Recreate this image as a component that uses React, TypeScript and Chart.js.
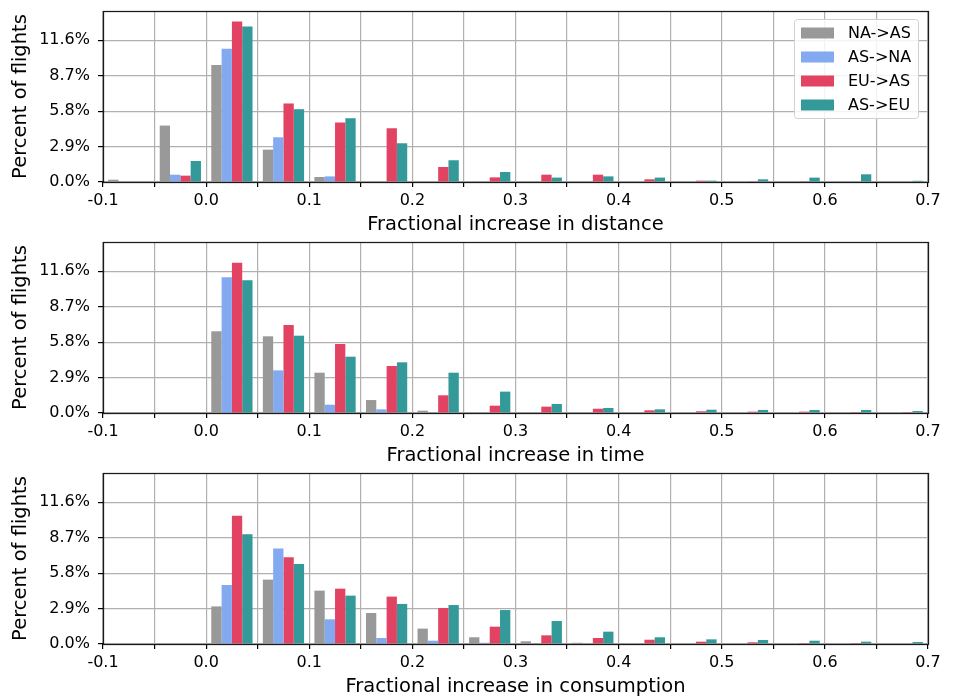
import React, { useEffect, useRef } from 'react';
import { Chart, registerables } from 'chart.js';

Chart.register(...registerables);

// Histogram bins (start of each 0.05-wide bin)
const binStarts = ['-0.10', '-0.05', '0.00', '0.05', '0.10', '0.15', '0.20', '0.25', '0.30', '0.35', '0.40', '0.45', '0.50', '0.55', '0.60', '0.65'];

const seriesLabels = ['NA->AS', 'AS->NA', 'EU->AS', 'AS->EU'];
const seriesColors = ['#999999', '#83a9f1', '#e34363', '#339999'];

// Panel 1: fractional increase in distance (% of flights)
const distNAAS = [0.19, 4.62, 9.57, 2.65, 0.41, 0, 0, 0, 0, 0, 0, 0, 0, 0, 0, 0];
const distASNA = [0, 0.6, 10.91, 3.66, 0.46, 0, 0, 0, 0, 0, 0, 0, 0, 0, 0, 0];
const distEUAS = [0, 0.52, 13.15, 6.43, 4.87, 4.4, 1.23, 0.38, 0.6, 0.6, 0.22, 0.11, 0.03, 0.03, 0.05, 0];
const distASEU = [0.05, 1.72, 12.74, 5.96, 5.22, 3.17, 1.78, 0.82, 0.36, 0.46, 0.36, 0.11, 0.22, 0.36, 0.63, 0.1];

// Panel 2: fractional increase in time
const timeNAAS = [0, 0, 6.69, 6.28, 3.3, 1.06, 0.19, 0, 0, 0, 0, 0, 0, 0, 0, 0];
const timeASNA = [0, 0, 11.11, 3.49, 0.68, 0.3, 0.08, 0, 0, 0, 0, 0, 0, 0, 0, 0];
const timeEUAS = [0, 0, 12.31, 7.21, 5.65, 3.85, 1.45, 0.6, 0.52, 0.35, 0.22, 0.14, 0.11, 0.11, 0.08, 0.08];
const timeASEU = [0, 0, 10.86, 6.33, 4.61, 4.15, 3.3, 1.75, 0.74, 0.41, 0.3, 0.27, 0.25, 0.25, 0.25, 0.16];

// Panel 3: fractional increase in consumption
const consNAAS = [0, 0, 3.08, 5.27, 4.37, 2.54, 1.26, 0.55, 0.22, 0.1, 0, 0, 0, 0, 0, 0];
const consASNA = [0, 0, 4.83, 7.81, 2.02, 0.49, 0.27, 0.1, 0, 0, 0, 0, 0, 0, 0, 0];
const consEUAS = [0, 0, 10.51, 7.1, 4.53, 3.88, 2.95, 1.42, 0.71, 0.49, 0.35, 0.19, 0.14, 0.08, 0.08, 0];
const consASEU = [0, 0, 8.98, 6.55, 3.96, 3.28, 3.19, 2.78, 1.88, 1.01, 0.55, 0.38, 0.33, 0.27, 0.19, 0.16];

const yTickValues = [0, 2.9, 5.8, 8.7, 11.6];
const yMax = 14.0;
const xMin = -0.1;
const xMax = 0.7;
const xStep = 0.05;

const FONT = "'DejaVu Sans', sans-serif";

const framePlugin = {
  id: 'frame',
  afterDatasetsDraw(chart: any) {
    const { left, top, right, bottom } = chart.chartArea;
    const ctx = chart.ctx;
    ctx.save();
    ctx.strokeStyle = '#1a1a1a';
    ctx.lineWidth = 1.25;
    ctx.strokeRect(Math.round(left) + 0.5, Math.round(top) + 0.5, Math.round(right - left), Math.round(bottom - top));
    ctx.restore();
  },
};

const boxLegendPlugin = {
  id: 'boxLegend',
  afterDraw(chart: any, _args: any, opts: any) {
    if (!opts || !opts.show) return;
    const ctx = chart.ctx;
    const { right, top } = chart.chartArea;
    const x0 = right - 134;
    const y0 = top + 8;
    const w = 124;
    const h = 99;
    ctx.save();
    ctx.beginPath();
    if (ctx.roundRect) ctx.roundRect(x0 + 0.5, y0 + 0.5, w, h, 3);
    else ctx.rect(x0 + 0.5, y0 + 0.5, w, h);
    ctx.fillStyle = 'rgba(255,255,255,0.85)';
    ctx.fill();
    ctx.strokeStyle = '#d0d0d0';
    ctx.lineWidth = 1;
    ctx.stroke();
    ctx.font = `16px ${FONT}`;
    ctx.textBaseline = 'middle';
    ctx.textAlign = 'left';
    chart.data.datasets.forEach((ds: any, i: number) => {
      const cy = y0 + 14 + i * 24;
      ctx.fillStyle = ds.backgroundColor;
      ctx.fillRect(x0 + 7, cy - 5.5, 33, 11);
      ctx.fillStyle = '#000';
      ctx.fillText(ds.label, x0 + 54, cy + 0.5);
    });
    ctx.restore();
  },
};

function Panel(props: { title: string; series: number[][]; showLegend: boolean; top: number }) {
  const ref = useRef<HTMLCanvasElement | null>(null);
  useEffect(() => {
    if (!ref.current) return;
    const chart = new Chart(ref.current, {
      type: 'bar',
      data: {
        labels: binStarts,
        datasets: seriesLabels.map((label, i) => ({
          label,
          data: props.series[i],
          backgroundColor: seriesColors[i],
          borderWidth: 0,
          xAxisID: 'x',
          yAxisID: 'y',
          categoryPercentage: 0.8,
          barPercentage: 1.0,
        })),
      },
      options: {
        animation: false,
        responsive: false,
        maintainAspectRatio: false,
        layout: { padding: { top: 11, right: 28, left: 0, bottom: 0 } },
        plugins: {
          legend: { display: false },
          tooltip: { enabled: false },
          boxLegend: { show: props.showLegend },
        } as any,
        scales: {
          x: { type: 'category', display: false, offset: true },
          x2: {
            type: 'linear',
            position: 'bottom',
            axis: 'x',
            offset: false,
            min: xMin,
            max: xMax,
            afterFit: (s: any) => {
              s.height = 55;
              s.paddingLeft = 0;
              s.paddingRight = 0;
            },
            ticks: {
              stepSize: xStep,
              maxTicksLimit: 100,
              autoSkip: false,
              maxRotation: 0,
              minRotation: 0,
              padding: 4,
              color: '#000',
              font: { family: FONT, size: 16 },
              callback: (v: any) => {
                const r = Math.round(Number(v) * 100);
                return r % 10 === 0 ? (r / 100).toFixed(1) : '';
              },
            },
            grid: { offset: false, color: '#b0b0b0', lineWidth: 1.2, tickColor: '#000', tickLength: 5, tickWidth: 1.2, drawTicks: true },
            border: { display: false },
            title: {
              display: true,
              text: props.title,
              color: '#000',
              font: { family: FONT, size: 19.5 },
              padding: { top: 0, bottom: 0 },
            },
          },
          y: {
            type: 'linear',
            min: 0,
            max: yMax,
            afterFit: (s: any) => {
              s.width = 103;
              s.paddingTop = 0;
              s.paddingBottom = 0;
            },
            afterBuildTicks: (s: any) => {
              s.ticks = yTickValues.map((v) => ({ value: v }));
            },
            ticks: {
              padding: 8,
              color: '#000',
              font: { family: FONT, size: 16 },
              callback: (v: any) => Number(v).toFixed(1) + '%',
            },
            grid: { color: '#b0b0b0', lineWidth: 1.2, tickColor: '#000', tickLength: 5, tickWidth: 1.2 },
            border: { display: false },
            title: {
              display: true,
              text: 'Percent of flights',
              color: '#000',
              font: { family: FONT, size: 19.5 },
              padding: { top: 9, bottom: 0 },
            },
          },
        } as any,
      },
      plugins: [framePlugin, boxLegendPlugin],
    } as any);
    return () => chart.destroy();
  }, []);
  return (
    <canvas
      ref={ref}
      width={956}
      height={237}
      style={{ position: 'absolute', left: 0, top: props.top, width: 956, height: 237 }}
    />
  );
}

export default function App() {
  return (
    <div style={{ position: 'absolute', left: 0, top: 0, width: 956, height: 697, background: '#fff', overflow: 'hidden' }}>
      <Panel title="Fractional increase in distance" series={[distNAAS, distASNA, distEUAS, distASEU]} showLegend={true} top={0} />
      <Panel title="Fractional increase in time" series={[timeNAAS, timeASNA, timeEUAS, timeASEU]} showLegend={false} top={231} />
      <Panel title="Fractional increase in consumption" series={[consNAAS, consASNA, consEUAS, consASEU]} showLegend={false} top={462} />
    </div>
  );
}
